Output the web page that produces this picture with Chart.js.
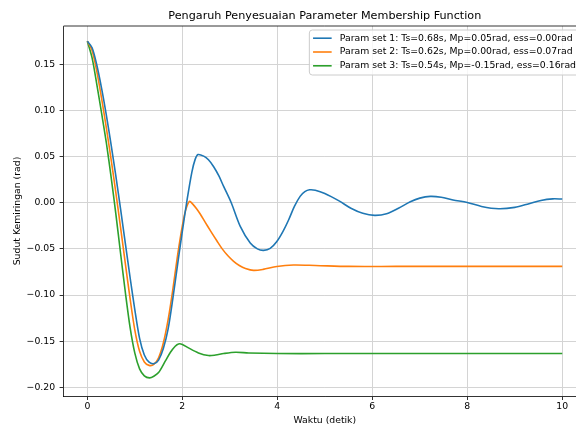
<!DOCTYPE html>
<html><head><meta charset="utf-8">
<script src="https://cdn.jsdelivr.net/npm/chart.js@4.4.1/dist/chart.umd.min.js"></script>
<style>
html,body{margin:0;padding:0;background:#fff;overflow:hidden;width:576px;height:426px}
#wrap{position:absolute;left:0;top:0;width:600px;height:426px}
</style>
</head><body><div id="wrap"><canvas id="c" width="600" height="426"></canvas></div>
<script>
const titleText = 'Pengaruh Penyesuaian Parameter Membership Function';
const xLabel = 'Waktu (detik)';
const yLabel = 'Sudut Kemiringan (rad)';
const seriesNames = [
  'Param set 1: Ts=0.68s, Mp=0.05rad, ess=0.00rad',
  'Param set 2: Ts=0.62s, Mp=0.00rad, ess=0.07rad',
  'Param set 3: Ts=0.54s, Mp=-0.15rad, ess=0.16rad'
];
const xTicks = [0, 2, 4, 6, 8, 10];
const yTicks = [-0.20, -0.15, -0.10, -0.05, 0.00, 0.05, 0.10, 0.15];

const set1Time = [0, 0.1, 0.2, 0.3, 0.4, 0.5, 0.6, 0.7, 0.8, 0.9, 1.0, 1.1, 1.2, 1.3, 1.41, 1.5, 1.6, 1.7, 1.8, 1.9, 2.0, 2.1, 2.2, 2.27, 2.33, 2.45, 2.55, 2.66, 2.77, 2.87, 3.03, 3.22, 3.43, 3.58, 3.71, 3.85, 3.99, 4.12, 4.24, 4.36, 4.48, 4.58, 4.68, 4.80, 5.00, 5.30, 5.55, 5.80, 6.05, 6.30, 6.55, 6.80, 7.00, 7.22, 7.45, 7.70, 8.00, 8.30, 8.66, 9.00, 9.30, 9.55, 9.80, 10.00];
const set1Angle = [0.175, 0.168, 0.149, 0.124, 0.095, 0.063, 0.029, -0.007, -0.044, -0.081, -0.116, -0.147, -0.165, -0.1728, -0.1742, -0.1705, -0.158, -0.137, -0.104, -0.067, -0.031, 0.003, 0.033, 0.047, 0.0522, 0.0505, 0.0465, 0.039, 0.029, 0.0177, 0.000, -0.0256, -0.0437, -0.050, -0.0516, -0.0495, -0.042, -0.031, -0.0184, -0.004, 0.0069, 0.012, 0.014, 0.0135, 0.010, 0.002, -0.006, -0.0115, -0.0137, -0.012, -0.006, 0.001, 0.005, 0.0069, 0.006, 0.003, 0.0003, -0.004, -0.0065, -0.005, -0.001, 0.0025, 0.0042, 0.004];

const set2Time = [0, 0.1, 0.2, 0.3, 0.4, 0.5, 0.6, 0.7, 0.8, 0.9, 1.0, 1.1, 1.2, 1.3, 1.4, 1.5, 1.6, 1.7, 1.8, 1.9, 2.0, 2.07, 2.15, 2.22, 2.30, 2.38, 2.48, 2.60, 2.73, 2.84, 2.96, 3.08, 3.20, 3.33, 3.50, 3.70, 3.99, 4.34, 4.80, 5.5, 6.5, 8.0, 10.0];
const set2Angle = [0.175, 0.165, 0.142, 0.113, 0.081, 0.047, 0.011, -0.027, -0.066, -0.104, -0.138, -0.161, -0.1725, -0.1762, -0.1752, -0.168, -0.152, -0.127, -0.094, -0.057, -0.025, -0.008, 0.0015, -0.0015, -0.0065, -0.0125, -0.021, -0.031, -0.0415, -0.050, -0.0575, -0.0635, -0.068, -0.0712, -0.0733, -0.0722, -0.069, -0.0675, -0.068, -0.069, -0.069, -0.069, -0.069];

const set3Time = [0, 0.1, 0.2, 0.3, 0.4, 0.5, 0.6, 0.7, 0.8, 0.9, 1.0, 1.1, 1.2, 1.31, 1.4, 1.5, 1.64, 1.75, 1.85, 1.92, 2.0, 2.12, 2.34, 2.55, 2.70, 2.87, 3.12, 3.40, 4.0, 5.0, 6.5, 8.0, 10.0];
const set3Angle = [0.175, 0.157, 0.128, 0.097, 0.065, 0.028, -0.012, -0.055, -0.097, -0.135, -0.163, -0.180, -0.1875, -0.1898, -0.188, -0.184, -0.1717, -0.162, -0.1555, -0.153, -0.1535, -0.157, -0.1627, -0.1656, -0.165, -0.1634, -0.162, -0.1628, -0.1634, -0.1634, -0.1634, -0.1634, -0.1634];

const colors = ['#1f77b4', '#ff7f0e', '#2ca02c'];
const FAM = "'DejaVu Sans'";
const FS = 9.3;

function pts(t, v) { return t.map((x, i) => ({x: x, y: v[i]})); }
const seriesData = [pts(set1Time, set1Angle), pts(set2Time, set2Angle), pts(set3Time, set3Angle)];

const decor = {
  id: 'decor',
  afterDatasetsDraw(chart) {
    const {ctx, chartArea: a} = chart;
    ctx.save();
    ctx.strokeStyle = '#000';
    ctx.lineWidth = 0.8;
    ctx.beginPath();
    ctx.moveTo(a.left, a.top); ctx.lineTo(a.right, a.top); ctx.lineTo(a.right, a.bottom);
    ctx.stroke();
    ctx.restore();
  },
  afterDraw(chart) {
    const {ctx, chartArea: a} = chart;
    ctx.save();
    ctx.fillStyle = '#000';
    ctx.font = '11.2px ' + FAM;
    ctx.textAlign = 'center';
    ctx.textBaseline = 'middle';
    ctx.fillText(titleText, (a.left + a.right) / 2, 16.5);
    const bw = 272, bh = 45;
    const bx = a.right - 4.65 - bw, by = a.top + 4;
    ctx.beginPath();
    if (ctx.roundRect) ctx.roundRect(bx, by, bw, bh, 3); else ctx.rect(bx, by, bw, bh);
    ctx.fillStyle = 'rgba(255,255,255,0.8)';
    ctx.fill();
    ctx.strokeStyle = '#cccccc';
    ctx.lineWidth = 1;
    ctx.stroke();
    ctx.font = FS + 'px ' + FAM;
    ctx.textAlign = 'left';
    chart.data.datasets.forEach((ds, i) => {
      const yy = by + 8.2 + i * 13.8;
      ctx.strokeStyle = ds.borderColor;
      ctx.lineWidth = 1.6;
      ctx.beginPath();
      ctx.moveTo(bx + 3.7, yy); ctx.lineTo(bx + 22.3, yy);
      ctx.stroke();
      ctx.fillStyle = '#000';
      ctx.fillText(ds.label, bx + 30.4, yy);
    });
    ctx.restore();
  }
};

const fmtY = v => (v < -1e-9 ? '\u2212' : '') + Math.abs(v).toFixed(2);

new Chart(document.getElementById('c'), {
  type: 'line',
  data: {
    datasets: seriesData.map((d, i) => ({
      label: seriesNames[i], data: d, borderColor: colors[i], backgroundColor: colors[i],
      borderWidth: 1.6, pointRadius: 0, fill: false, tension: 0.3
    }))
  },
  options: {
    responsive: false, animation: false, devicePixelRatio: 1,
    layout: {padding: {left: 0, right: 14, top: 26, bottom: 0}},
    plugins: {legend: {display: false}, title: {display: false}, tooltip: {enabled: false}},
    scales: {
      x: {
        type: 'linear', min: -0.5, max: 10.5,
        afterBuildTicks: s => { s.ticks = xTicks.map(v => ({value: v})); },
        afterFit: s => { s.height = 30; },
        ticks: {font: {family: FAM, size: FS}, color: '#000', padding: 1, maxRotation: 0, autoSkip: false, callback: v => String(v)},
        grid: {color: '#d4d4d4', lineWidth: 1, tickLength: 4, tickColor: '#000', tickWidth: 0.8},
        border: {display: true, color: '#000', width: 0.8},
        title: {display: true, text: xLabel, color: '#000', font: {family: FAM, size: FS}, padding: {top: 0, bottom: 0}}
      },
      y: {
        type: 'linear', min: -0.2094, max: 0.1915,
        afterBuildTicks: s => { s.ticks = yTicks.map(v => ({value: v})); },
        afterFit: s => { s.width = 63.6; },
        ticks: {font: {family: FAM, size: FS}, color: '#000', padding: 4.5, autoSkip: false, callback: v => fmtY(v)},
        grid: {color: '#d4d4d4', lineWidth: 1, tickLength: 4, tickColor: '#000', tickWidth: 0.8},
        border: {display: true, color: '#000', width: 0.8},
        title: {display: true, text: yLabel, color: '#000', font: {family: FAM, size: FS}, padding: {top: 12.4, bottom: 0}}
      }
    }
  },
  plugins: [decor]
});
</script>
</body></html>
